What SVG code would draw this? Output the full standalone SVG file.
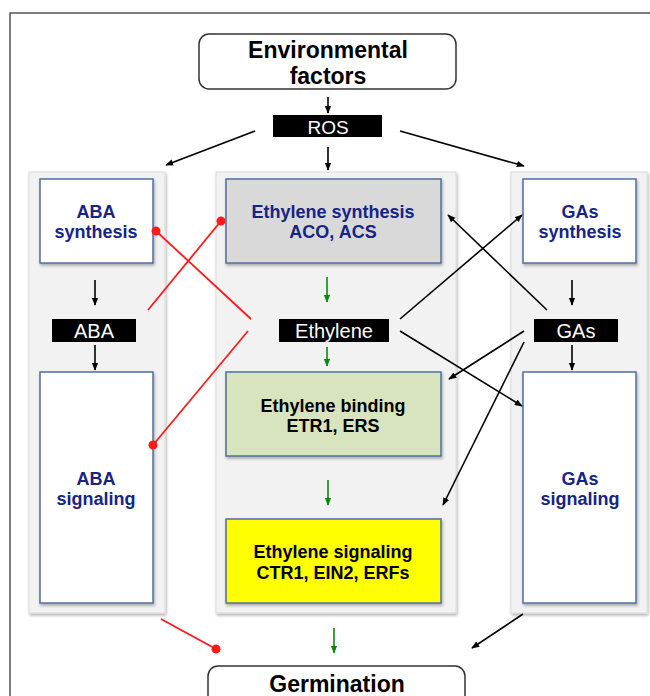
<svg xmlns="http://www.w3.org/2000/svg" width="650" height="696" viewBox="0 0 650 696">
<defs>
<filter id="sh" x="-10%" y="-10%" width="130%" height="130%">
<feDropShadow dx="1" dy="2" stdDeviation="1.5" flood-color="#000" flood-opacity="0.3"/>
</filter>
<marker id="ab" viewBox="0 0 10 10" refX="9" refY="5" markerWidth="8" markerHeight="8" orient="auto" markerUnits="userSpaceOnUse">
<path d="M0,1 L10,5 L0,9 z" fill="#000"/>
</marker>
<marker id="ag" viewBox="0 0 10 10" refX="9" refY="5" markerWidth="8" markerHeight="8" orient="auto" markerUnits="userSpaceOnUse">
<path d="M0,1 L10,5 L0,9 z" fill="#0a8a0a"/>
</marker>
<marker id="dot" viewBox="0 0 10 10" refX="5" refY="5" markerWidth="9" markerHeight="9" orient="auto" markerUnits="userSpaceOnUse">
<circle cx="5" cy="5" r="5" fill="#ff1a1a"/>
</marker>
</defs>
<style>
.panel{fill:#f2f2f2;stroke:#dcdcdc;stroke-width:1;filter:url(#sh)}
.box{stroke:#4f6f9f;stroke-width:1.5;filter:url(#sh)}
.nav{font-family:"Liberation Sans",Arial,sans-serif;font-weight:bold;font-size:18px;fill:#162484;text-anchor:middle}
.blk{font-family:"Liberation Sans",Arial,sans-serif;font-weight:bold;font-size:18px;fill:#000;text-anchor:middle}
.lab{font-family:"Liberation Sans",Arial,sans-serif;font-size:20px;fill:#fff;text-anchor:middle}
.big{font-family:"Liberation Sans",Arial,sans-serif;font-weight:bold;font-size:23px;fill:#000;text-anchor:middle}
.ar{stroke:#000;stroke-width:1.6;fill:none;marker-end:url(#ab)}
.gr{stroke:#0a8a0a;stroke-width:1.6;fill:none;marker-end:url(#ag)}
.rd{stroke:#ff1a1a;stroke-width:1.8;fill:none}
</style>
<rect x="10" y="13" width="680" height="720" fill="#fff" stroke="#555" stroke-width="1.5"/>

<g id="panels">
<rect class="panel" x="29" y="172" width="136" height="441"/>
<rect class="panel" x="216" y="172" width="240" height="441"/>
<rect class="panel" x="511" y="172" width="136" height="441"/>
</g>

<g id="env">
<rect x="199" y="34" width="257" height="55" rx="10" fill="#fff" stroke="#333" stroke-width="1.5"/>
<text class="big" x="328" y="58">Environmental</text>
<text class="big" x="328" y="84">factors</text>
</g>
<g id="ros">
<rect x="273" y="115" width="109" height="22" fill="#000"/>
<text class="lab" x="328" y="134" style="font-size:19px">ROS</text>
</g>

<g id="aba-synthesis">
<rect class="box" x="40" y="179" width="113" height="84" fill="#fff"/>
<text class="nav" x="96" y="218">ABA</text>
<text class="nav" x="96" y="238">synthesis</text>
</g>
<g id="aba">
<rect x="52" y="319" width="84" height="23" fill="#000"/>
<text class="lab" x="94" y="338">ABA</text>
</g>
<g id="aba-signaling">
<rect class="box" x="40" y="372" width="113" height="231" fill="#fff"/>
<text class="nav" x="96" y="485">ABA</text>
<text class="nav" x="96" y="505">signaling</text>
</g>

<g id="ethylene-synthesis">
<rect class="box" x="226" y="179" width="215" height="84" fill="#d9d9d9"/>
<text class="nav" x="333" y="218">Ethylene synthesis</text>
<text class="nav" x="333" y="238">ACO, ACS</text>
</g>
<g id="ethylene">
<rect x="279" y="319" width="110" height="23" fill="#000"/>
<text class="lab" x="334" y="338">Ethylene</text>
</g>
<g id="ethylene-binding">
<rect class="box" x="226" y="372" width="215" height="84" fill="#d7e4bd"/>
<text class="blk" x="333" y="412">Ethylene binding</text>
<text class="blk" x="333" y="432">ETR1, ERS</text>
</g>
<g id="ethylene-signaling">
<rect class="box" x="226" y="519" width="215" height="84" fill="#ffff00"/>
<text class="blk" x="333" y="558">Ethylene signaling</text>
<text class="blk" x="333" y="579">CTR1, EIN2, ERFs</text>
</g>

<g id="gas-synthesis">
<rect class="box" x="523" y="179" width="113" height="84" fill="#fff"/>
<text class="nav" x="580" y="218">GAs</text>
<text class="nav" x="580" y="238">synthesis</text>
</g>
<g id="gas">
<rect x="534" y="319" width="84" height="23" fill="#000"/>
<text class="lab" x="576" y="338">GAs</text>
</g>
<g id="gas-signaling">
<rect class="box" x="523" y="372" width="113" height="231" fill="#fff"/>
<text class="nav" x="580" y="485">GAs</text>
<text class="nav" x="580" y="505">signaling</text>
</g>

<g id="germination">
<rect x="208" y="666" width="257" height="55" rx="10" fill="#fff" stroke="#333" stroke-width="1.5"/>
<text class="big" x="337" y="692">Germination</text>
</g>

<g id="connectors">
<line class="ar" x1="328" y1="97" x2="328" y2="113"/>
<line class="ar" x1="255" y1="131" x2="166" y2="165"/>
<line class="ar" x1="328" y1="147" x2="328" y2="170"/>
<line class="ar" x1="400" y1="131" x2="524" y2="166"/>

<line class="ar" x1="95" y1="280" x2="95" y2="305"/>
<line class="ar" x1="95" y1="345" x2="95" y2="370"/>
<line class="ar" x1="572" y1="280" x2="572" y2="305"/>
<line class="ar" x1="572" y1="345" x2="572" y2="370"/>

<line class="gr" x1="327" y1="277" x2="327" y2="302"/>
<line class="gr" x1="327" y1="347" x2="327" y2="366"/>
<line class="gr" x1="328" y1="480" x2="328" y2="505"/>
<line class="gr" x1="334" y1="628" x2="334" y2="653"/>

<line class="ar" x1="400" y1="319" x2="522" y2="215"/>
<line class="ar" x1="400" y1="331" x2="522" y2="406"/>
<line class="ar" x1="547" y1="310" x2="448" y2="215"/>
<line class="ar" x1="524" y1="331" x2="449" y2="379"/>
<line class="ar" x1="524" y1="342" x2="443" y2="505"/>
<line class="ar" x1="523" y1="614" x2="472" y2="648"/>

<line class="rd" x1="251" y1="319" x2="156" y2="231" marker-end="url(#dot)"/>
<line class="rd" x1="148" y1="310" x2="221" y2="221" marker-end="url(#dot)"/>
<line class="rd" x1="248" y1="331" x2="153" y2="445" marker-end="url(#dot)"/>
<line class="rd" x1="161" y1="619" x2="216" y2="649" marker-end="url(#dot)"/>
</g>
</svg>
